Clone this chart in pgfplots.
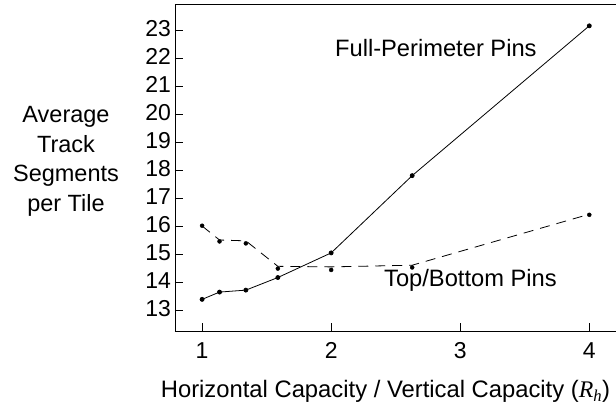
\documentclass[border=0pt]{standalone}
\usepackage{fontspec}
\setmainfont{Liberation Sans}
\newfontfamily\seriffont{Liberation Serif}
\usepackage{pgfplots}
\pgfplotsset{compat=1.18}
\begin{document}
\begin{tikzpicture}
\begin{axis}[
  name=ax,
  at={(0,0)}, anchor=south west,
  scale only axis,
  width=441pt, height=327pt,
  xmin=0.79, xmax=4.207,
  ymin=12.25, ymax=23.93,
  axis lines=left,
  axis line style={-, line width=0.9pt},
  xtick={1,2,3,4},
  ytick={13,14,...,23},
  tick align=inside,
  major tick length=8pt,
  tick style={line width=0.8pt, black},
  /pgf/number format/assume math mode=true,
  ticklabel style={font=\fontsize{23}{27}\selectfont},
  xticklabel style={anchor=base, yshift=-27.5pt},
  yticklabel style={anchor=east, xshift=-0.5pt, yshift=1.5pt},
  clip=false,
]
\addplot[black, line width=0.8pt, mark=*, mark size=2pt, mark options={solid}] coordinates {
  (1,13.38) (1.135,13.64) (1.339,13.71) (1.587,14.16) (2,15.04) (2.628,17.80) (4,23.15)
};
\addplot[black, line width=0.8pt, dash pattern=on 10pt off 7pt] coordinates {
  (1,16.00) (1.135,15.50) (1.339,15.47) (1.587,14.56) (2,14.54) (2.628,14.60) (4,16.42)
};
\addplot[black, only marks, mark=*, mark size=2pt] coordinates {
  (1,16.01) (1.135,15.45) (1.339,15.38) (1.587,14.48) (2,14.43) (2.628,14.52) (4,16.40)
};
\node[anchor=base west, inner sep=0pt, font=\fontsize{23.7}{28}\selectfont] at (axis cs:2.029,22.05) {Full-Perimeter Pins};
\node[anchor=base west, inner sep=0pt, font=\fontsize{23.7}{28}\selectfont] at (axis cs:2.409,13.857) {Top/Bottom Pins};
\draw[line width=0.9pt] (rel axis cs:0,1) -- (rel axis cs:1,1);
\end{axis}
\node[anchor=base, inner sep=0pt, font=\fontsize{23.8}{28}\selectfont] at ([shift={(210.5pt,-66.3pt)}]ax.south west) {Horizontal Capacity / Vertical Capacity ({\seriffont\itshape R}\textsubscript{\seriffont\itshape h})};
\node[anchor=base, inner sep=0pt, align=center, font=\fontsize{23.5}{29.7}\selectfont] at ([shift={(-109pt,119.3pt)}]ax.south west) {Average\\Track\\Segments\\per Tile};
\path ([shift={(-175pt,-73pt)}]ax.south west) coordinate (bl);
\path ([shift={(0pt,4pt)}]ax.north east) coordinate (tr);
\pgfresetboundingbox
\useasboundingbox (bl) rectangle (tr);
\end{tikzpicture}
\end{document}
